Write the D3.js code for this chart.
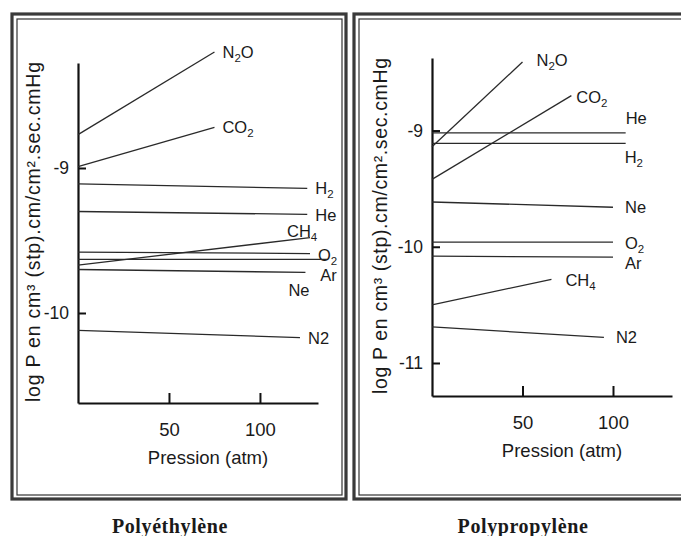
<!DOCTYPE html>
<html>
<head>
<meta charset="utf-8">
<script src="https://cdn.jsdelivr.net/npm/d3@7"></script>
<style>
  html, body { margin: 0; padding: 0; background: #fff; }
  svg { display: block; }
  text { font-family: "Liberation Sans", Arial, Helvetica, sans-serif; fill: #1a1a1a; }
  text.title { font-family: "Liberation Serif", "Times New Roman", serif; font-weight: bold; }
</style>
</head>
<body>
<svg id="chart" width="681" height="536"></svg>
<script>
// ---------------- DATA ----------------
// Gas labels ("_" marks a subscript digit)
const peGases = ["N_2O", "CO_2", "H_2", "He", "CH_4", "O_2", "Ar", "Ne", "N2"];
const pePressureStart = [0, 0, 0, 0, 0, 0, 0, 0, 0];
const pePressureEnd   = [75, 75, 126, 126, 127.5, 127.5, 137, 125, 122];
const peLogStart = [-8.77, -8.99, -9.11, -9.30, -9.67, -9.58, -9.63, -9.70, -10.12];
const peLogEnd   = [-8.20, -8.72, -9.14, -9.32, -9.48, -9.59, -9.63, -9.72, -10.17];

const ppGases = ["N_2O", "CO_2", "He", "H_2", "Ne", "O_2", "Ar", "CH_4", "N2"];
const ppPressureStart = [0, 0, 0, 0, 0, 0, 0, 0, 0];
const ppPressureEnd   = [50, 77, 107, 107, 100, 100, 100, 66, 95];
const ppLogStart = [-9.14, -9.42, -9.02, -9.11, -9.615, -9.96, -10.08, -10.50, -10.69];
const ppLogEnd   = [-8.41, -8.70, -9.02, -9.11, -9.66, -9.96, -10.09, -10.28, -10.78];

const xTickValues = [50, 100];
const peYTicks = [-9, -10];
const ppYTicks = [-9, -10, -11];
const peTitle = "Polyéthylène";
const ppTitle = "Polypropylène";
const xTitle = "Pression (atm)";
const yTitle = "log P  en cm³ (stp).cm/cm².sec.cmHg";

// ---------------- LAYOUT / STYLE ----------------
const panels = [
  {
    gases: peGases, p0: pePressureStart, p1: pePressureEnd, v0: peLogStart, v1: peLogEnd,
    yTicks: peYTicks, title: peTitle,
    xDomain: [0, 131.9], xRange: [78, 318],
    yDomain: [-10.6207, -8.2759], yRange: [403, 63],
    frame: {x: 12, y: 14, w: 334, h: 485},
    yLabel: {x: 33, y: 232, len: 340},
    titlePos: {x: 170, y: 533},
    labelOffsets: [[8, 0], [8, 0], [8, 0], [8, 1], [-23, -7], [8, 1], [-7, 16], [-17, 18], [8, 0]]
  },
  {
    gases: ppGases, p0: ppPressureStart, p1: ppPressureEnd, v0: ppLogStart, v1: ppLogEnd,
    yTicks: ppYTicks, title: ppTitle,
    xDomain: [0, 132.6], xRange: [432, 672],
    yDomain: [-11.284, -8.376], yRange: [396, 58],
    frame: {x: 354, y: 14, w: 345, h: 485},
    yLabel: {x: 380, y: 226, len: 336},
    titlePos: {x: 523, y: 533},
    labelOffsets: [[14, -2], [5, 1], [0, -15], [-1, 14], [12, 0], [12, 1], [12, 6], [14, 1], [12, 0]]
  }
];

const svg = d3.select("#chart");

function addLabel(g, str, x, cy) {
  const t = g.append("text")
    .attr("x", x).attr("y", cy + 6)
    .attr("font-size", 16.5);
  const parts = str.split(/(_\d)/).filter(s => s.length);
  let prevSub = false;
  parts.forEach(p => {
    if (p.startsWith("_")) {
      t.append("tspan").text(p.slice(1))
        .attr("font-size", 11.5).attr("dy", 4);
      prevSub = true;
    } else {
      t.append("tspan").text(p).attr("dy", prevSub ? -4 : 0);
      prevSub = false;
    }
  });
}

panels.forEach(P => {
  // double frame
  svg.append("rect")
    .attr("x", P.frame.x).attr("y", P.frame.y)
    .attr("width", P.frame.w).attr("height", P.frame.h)
    .attr("fill", "none").attr("stroke", "#3a3a3a").attr("stroke-width", 3.2);
  svg.append("rect")
    .attr("x", P.frame.x + 5).attr("y", P.frame.y + 5)
    .attr("width", P.frame.w - 9).attr("height", P.frame.h - 9)
    .attr("fill", "none").attr("stroke", "#333").attr("stroke-width", 1.2);

  const x = d3.scaleLinear().domain(P.xDomain).range(P.xRange);
  const y = d3.scaleLinear().domain(P.yDomain).range(P.yRange);

  const g = svg.append("g");

  // x axis
  const xAxis = d3.axisBottom(x).tickValues(xTickValues)
    .tickSizeInner(-10).tickSizeOuter(0).tickPadding(20)
    .tickFormat(d3.format("d"));
  const gx = g.append("g").attr("transform", `translate(0,${P.yRange[0]})`).call(xAxis);
  gx.select(".domain").attr("stroke", "#111").attr("stroke-width", 2.2);
  gx.selectAll(".tick line").attr("stroke", "#111").attr("stroke-width", 2);
  gx.selectAll(".tick text").attr("font-size", 18.5)
    .style("font-family", "'Liberation Sans', Arial, sans-serif").style("fill", "#1a1a1a");

  // y axis
  const yAxis = d3.axisLeft(y).tickValues(P.yTicks)
    .tickSizeInner(-8).tickSizeOuter(0).tickPadding(9)
    .tickFormat(d => d3.format("d")(d).replace("−", "-"));
  const gy = g.append("g").attr("transform", `translate(${P.xRange[0]},0)`).call(yAxis);
  gy.select(".domain").attr("stroke", "#111").attr("stroke-width", 2.2);
  gy.selectAll(".tick line").attr("stroke", "#111").attr("stroke-width", 2);
  gy.selectAll(".tick text").attr("font-size", 17.5)
    .style("font-family", "'Liberation Sans', Arial, sans-serif").style("fill", "#1a1a1a");

  // axis titles
  g.append("text")
    .attr("x", (P.xRange[0] + P.xRange[1]) / 2 + 10)
    .attr("y", P.yRange[0] + 61)
    .attr("text-anchor", "middle").attr("font-size", 18.5)
    .text(xTitle);
  g.append("text")
    .attr("transform", `translate(${P.yLabel.x},${P.yLabel.y}) rotate(-90)`)
    .attr("text-anchor", "middle").attr("dy", "0.35em")
    .attr("font-size", 19.5)
    .attr("textLength", P.yLabel.len).attr("lengthAdjust", "spacing")
    .text(yTitle);

  // gas lines
  P.gases.forEach((gas, i) => {
    g.append("line")
      .attr("x1", x(P.p0[i])).attr("y1", y(P.v0[i]))
      .attr("x2", x(P.p1[i])).attr("y2", y(P.v1[i]))
      .attr("stroke", "#2a2a2a").attr("stroke-width", 1.3);
    const off = P.labelOffsets[i];
    addLabel(g, gas, x(P.p1[i]) + off[0], y(P.v1[i]) + off[1]);
  });

  // panel title
  svg.append("text")
    .attr("class", "title")
    .attr("x", P.titlePos.x).attr("y", P.titlePos.y)
    .attr("text-anchor", "middle")
    .attr("font-size", 20)
    .attr("letter-spacing", 0.6)
    .text(P.title);
});
</script>
</body>
</html>
